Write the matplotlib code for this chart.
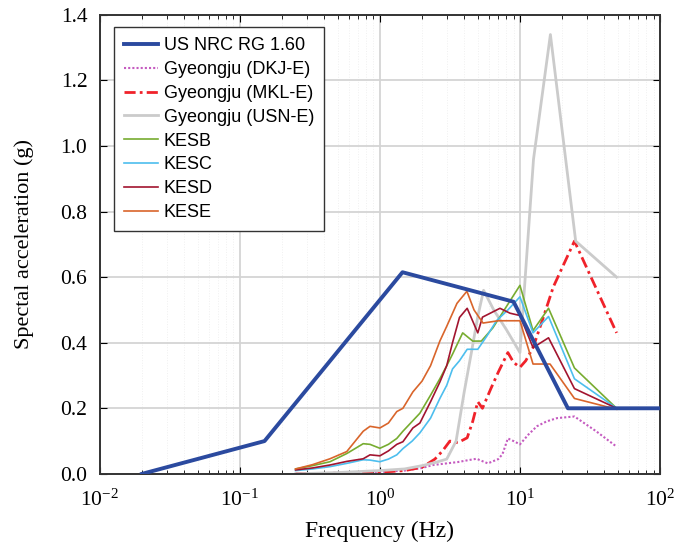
import numpy as np
import matplotlib
matplotlib.use('Agg')
import matplotlib.pyplot as plt

# =========================================================
# data
# =========================================================
rg_f = [0.02, 0.15, 1.45, 9.0, 22.0, 100.0]
rg_sa = [0.0, 0.10, 0.615, 0.525, 0.20, 0.20]

dkj_f = [0.25, 0.5, 1.0, 1.5, 2.0, 2.4, 3.0, 3.6, 4.3, 4.9, 5.9, 7.0, 7.5, 8.2, 9.0, 10.0,
         11.5, 13.2, 15.5, 18.4, 24.5, 35.0, 49.0]
dkj_sa = [0.0, 0.003, 0.006, 0.01, 0.018, 0.027, 0.032, 0.036, 0.042, 0.046, 0.032, 0.045, 0.06,
          0.108, 0.10, 0.09, 0.12, 0.145, 0.16, 0.17, 0.175, 0.13, 0.083]

mkl_f = [0.25, 0.5, 1.0, 1.5, 2.0, 2.47, 2.8, 3.16, 3.6, 4.2, 4.6, 5.0, 5.4, 6.2, 7.0, 8.2,
         9.0, 10.0, 11.0, 12.4, 14.5, 17.3, 24.5, 49.0]
mkl_sa = [0.0, 0.002, 0.005, 0.01, 0.02, 0.045, 0.07, 0.10, 0.095, 0.11, 0.16, 0.22, 0.20,
          0.26, 0.31, 0.37, 0.34, 0.325, 0.345, 0.385, 0.47, 0.57, 0.71, 0.43]

usn_f = [0.25, 0.5, 1.0, 1.5, 2.0, 2.5, 3.0, 3.5, 4.0, 4.5, 5.0, 5.5, 6.5, 8.0, 10.0,
         12.5, 16.5, 25.0, 49.0]
usn_sa = [0.0, 0.004, 0.01, 0.015, 0.025, 0.035, 0.045, 0.10, 0.25, 0.37, 0.48, 0.56, 0.50,
          0.44, 0.37, 0.96, 1.34, 0.71, 0.60]

kesb_f = [0.25, 0.33, 0.44, 0.58, 0.76, 0.85, 1.0, 1.15, 1.32, 1.46, 1.7, 1.93, 2.3, 2.68,
          3.0, 3.3, 3.9, 4.6, 5.3, 6.4, 8.0, 10.0, 12.4, 16.0, 24.5, 49.0]
kesb_sa = [0.015, 0.025, 0.037, 0.062, 0.092, 0.09, 0.078, 0.09, 0.108, 0.13, 0.16, 0.185,
           0.24, 0.29, 0.33, 0.365, 0.43, 0.405, 0.405, 0.445, 0.51, 0.575, 0.437, 0.505,
           0.323, 0.20]

kesc_f = [0.25, 0.33, 0.44, 0.58, 0.76, 0.85, 1.0, 1.15, 1.32, 1.46, 1.7, 1.93, 2.3, 2.68,
          3.0, 3.3, 3.7, 4.2, 5.0, 5.8, 6.8, 8.2, 10.0, 12.4, 16.0, 24.5, 49.0]
kesc_sa = [0.01, 0.015, 0.022, 0.032, 0.043, 0.042, 0.037, 0.045, 0.058, 0.077, 0.10, 0.125,
           0.17, 0.23, 0.27, 0.32, 0.345, 0.38, 0.38, 0.42, 0.467, 0.50, 0.54, 0.43, 0.48,
           0.29, 0.20]

kesd_f = [0.25, 0.33, 0.44, 0.58, 0.76, 0.85, 1.0, 1.15, 1.32, 1.46, 1.72, 1.93, 2.3, 2.68,
          3.0, 3.3, 3.7, 4.2, 5.0, 5.4, 7.2, 8.5, 10.0, 12.4, 16.0, 24.5, 49.0]
kesd_sa = [0.012, 0.018, 0.027, 0.038, 0.046, 0.058, 0.055, 0.07, 0.09, 0.098, 0.14, 0.155,
           0.22, 0.28, 0.33, 0.40, 0.477, 0.505, 0.43, 0.478, 0.505, 0.49, 0.483, 0.385,
           0.415, 0.26, 0.20]

kese_f = [0.25, 0.33, 0.44, 0.58, 0.76, 0.85, 1.0, 1.15, 1.32, 1.46, 1.72, 2.0, 2.3, 2.68,
          3.0, 3.55, 4.18, 4.7, 5.45, 7.0, 8.5, 10.0, 12.4, 16.4, 24.5, 49.0]
kese_sa = [0.015, 0.028, 0.046, 0.068, 0.13, 0.145, 0.14, 0.155, 0.19, 0.20, 0.25, 0.283,
           0.33, 0.405, 0.45, 0.52, 0.557, 0.50, 0.46, 0.467, 0.467, 0.467, 0.335, 0.335,
           0.23, 0.197]

# =========================================================
# plot
# =========================================================
plt.rcParams['font.family'] = ['Liberation Serif', 'DejaVu Serif']
plt.rcParams['mathtext.fontset'] = 'custom'
plt.rcParams['mathtext.rm'] = 'Liberation Serif'

fig = plt.figure(figsize=(6.79, 5.51), dpi=100)
ax = fig.add_axes([0.147, 0.140, 0.825, 0.833])

ax.plot(rg_f, rg_sa, color='#2b4a9f', lw=2.8, label='US NRC RG 1.60', zorder=5)
ax.plot(dkj_f, dkj_sa, color='#c55bc0', lw=1.5, ls=(0, (1, 1)), label='Gyeongju (DKJ-E)')
ax.plot(mkl_f, mkl_sa, color='#f0222a', lw=2.0, ls=(0, (4, 1.5, 1, 1.5)), label='Gyeongju (MKL-E)')
ax.plot(usn_f, usn_sa, color='#cbcbcb', lw=2.0, label='Gyeongju (USN-E)')
ax.plot(kesb_f, kesb_sa, color='#77ac30', lw=1.2, label='KESB')
ax.plot(kesc_f, kesc_sa, color='#4dbeee', lw=1.2, label='KESC')
ax.plot(kesd_f, kesd_sa, color='#a2142f', lw=1.2, label='KESD')
ax.plot(kese_f, kese_sa, color='#d9652b', lw=1.2, label='KESE')

ax.set_xscale('log')
ax.set_xlim(1e-2, 1e2)
ax.set_ylim(0, 1.4)
ax.set_yticks(np.arange(0, 1.41, 0.2))
ax.set_yticklabels([f'{v:.1f}' for v in np.arange(0, 1.41, 0.2)])

ax.grid(True, which='major', color='#d4d4d4', lw=1.3)
ax.grid(True, which='minor', axis='x', color='#f0f0f0', lw=0.7, ls=':')
ax.set_axisbelow(True)

ax.tick_params(which='both', direction='in', top=True, right=True, labelsize=15.5)
ax.tick_params(axis='x', pad=11)
ax.tick_params(axis='y', pad=9)
ax.tick_params(which='major', length=5)
ax.tick_params(which='minor', length=3)
for s in ax.spines.values():
    s.set_color('#333333')
    s.set_linewidth(1.4)

ax.set_xlabel('Frequency (Hz)', fontsize=17)
ax.set_ylabel('Spectal acceleration (g)', fontsize=16)
ax.xaxis.set_label_coords(0.5, -0.103)
ax.yaxis.set_label_coords(-0.118, 0.5)

leg = ax.legend(loc='upper left', bbox_to_anchor=(0.016, 0.985), fancybox=False,
                edgecolor='#333333', framealpha=1, handlelength=1.9,
                prop={'family': 'Liberation Sans', 'size': 13}, borderpad=0.55,
                labelspacing=0.38, handletextpad=0.3, borderaxespad=0.3)
leg.get_frame().set_linewidth(1.0)

plt.savefig('out.png', dpi=100)
